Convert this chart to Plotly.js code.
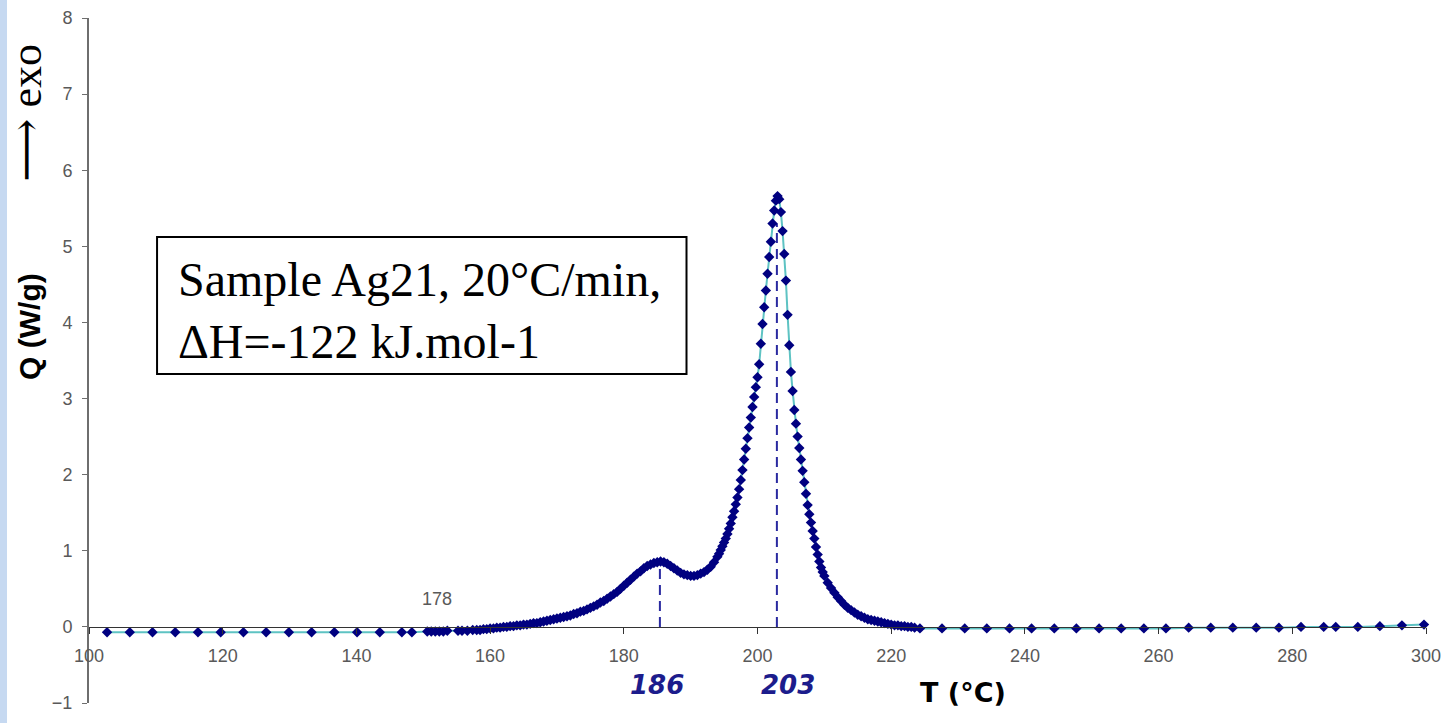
<!DOCTYPE html>
<html>
<head>
<meta charset="utf-8">
<script src="https://cdn.plot.ly/plotly-3.0.1.min.js"></script>
<style>
html,body{margin:0;padding:0;width:1443px;height:723px;overflow:hidden;
background:linear-gradient(to right,#c6d9f1 0px,#c6d9f1 7px,#ffffff 7px);}
#chart{width:1443px;height:723px;}
</style>
</head>
<body>
<div id="chart"></div>
<script>
// Temperature (°C) of each measured point
const tempC = [
102.7,106.1,109.5,112.9,116.3,119.7,123.1,126.5,129.9,133.3,136.7,140.1,143.5,146.8,148.3,
150.6,151.2,151.8,152.4,153.0,153.6,155.2,155.8,156.6,157.4,
158,158.5,159,159.5,160,160.5,161,161.5,162,162.5,163,163.5,164,164.5,165,165.5,166,166.5,167,167.5,
168,168.5,169,169.5,170,170.5,171,171.5,172,172.5,173,173.5,174,174.5,175,175.5,176,176.5,177,177.5,
178,178.5,179,179.5,180,180.5,181,181.5,182,182.5,183,183.5,184,184.5,185,185.5,186,186.5,187,187.5,
188,188.5,189,189.5,190,190.5,191,191.5,192,192.5,193,193.5,
194,194.25,194.5,194.75,195,195.25,195.5,195.75,196,196.25,196.5,196.75,197,197.25,197.5,197.75,
198,198.25,198.5,198.75,199,199.25,199.5,199.75,200,200.25,200.5,200.75,201,201.25,201.5,201.75,
202,202.25,202.5,202.75,203,203.25,203.5,203.75,204,204.25,204.5,204.75,205,205.25,205.5,205.75,
206,206.25,206.5,206.75,207,207.25,207.5,207.75,208,208.25,208.5,208.75,209,209.25,209.5,209.75,
210,210.5,211,211.5,212,212.5,213,213.5,214,214.5,215,215.5,216,216.5,217,217.5,
218,218.5,219,219.5,220,220.5,221,221.5,222,222.5,223,223.5,
224.3,227.6,231.0,234.3,237.7,241.0,244.4,247.7,251.1,254.4,257.8,261.1,264.5,267.8,271.1,274.6,
278.0,281.3,284.7,286.5,289.8,293.1,296.4,299.7
];
// Heat flow Q (W/g) of each point
const heatFlow = [
-0.07,-0.07,-0.07,-0.07,-0.07,-0.07,-0.07,-0.07,-0.07,-0.07,-0.07,-0.07,-0.07,-0.07,-0.07,
-0.06,-0.06,-0.06,-0.06,-0.06,-0.05,-0.05,-0.05,-0.05,-0.04,
-0.04,-0.04,-0.03,-0.03,-0.02,-0.02,-0.01,-0.01,0.00,0.00,0.01,0.01,0.02,0.02,0.03,0.03,0.04,0.05,0.05,0.06,
0.07,0.08,0.09,0.10,0.11,0.12,0.13,0.14,0.15,0.17,0.18,0.20,0.21,0.23,0.25,0.27,0.29,0.32,0.34,0.37,
0.40,0.43,0.46,0.50,0.54,0.58,0.62,0.66,0.70,0.73,0.77,0.80,0.82,0.84,0.85,0.86,0.85,0.83,0.80,0.77,
0.74,0.71,0.69,0.68,0.67,0.67,0.68,0.70,0.72,0.75,0.79,0.85,
0.92,0.96,1.01,1.06,1.11,1.16,1.22,1.29,1.36,1.44,1.52,1.61,1.70,1.81,1.93,2.06,
2.20,2.34,2.48,2.62,2.75,2.89,3.02,3.15,3.28,3.45,3.72,3.98,4.20,4.42,4.64,4.86,
5.06,5.30,5.47,5.60,5.66,5.62,5.45,5.20,4.90,4.55,4.10,3.70,3.35,3.10,2.85,2.67,
2.50,2.35,2.20,2.05,1.90,1.75,1.60,1.48,1.37,1.26,1.16,1.05,0.95,0.86,0.78,0.72,
0.67,0.58,0.51,0.45,0.39,0.34,0.29,0.25,0.22,0.19,0.16,0.14,0.12,0.10,0.09,0.08,
0.07,0.06,0.05,0.04,0.03,0.02,0.02,0.01,0.01,0.00,0.00,-0.01,
-0.02,-0.02,-0.02,-0.02,-0.02,-0.02,-0.02,-0.02,-0.02,-0.02,-0.02,-0.02,-0.01,-0.01,-0.01,-0.01,
-0.01,0.00,0.00,0.00,0.00,0.01,0.02,0.03
];
// Peak markers (dashed drop lines) and their labels
const peakT = [185.4, 202.9];
const peakQ = [0.85, 5.3];
const peakLabels = ['186', '203'];
// Axis ticks
const xTicks = [100,120,140,160,180,200,220,240,260,280,300];
const yTicks = [-1,0,1,2,3,4,5,6,7,8];
// Onset note
const onsetLabel = '178';
const onsetT = 152.1;
const onsetQ = 0.37;
// Texts
const infoLines = ['Sample Ag21, 20°C/min,', 'ΔH=-122 kJ.mol-1'];
const xTitle = 'T (°C)';
const yTitle = 'Q (W/g)';
const exoLabel = '⟶ exo';

const trace = {
  x: tempC, y: heatFlow, type: 'scatter', mode: 'lines+markers',
  line: {color: '#5ec3c3', width: 2},
  marker: {symbol: 'diamond', size: 8, color: '#000080', line: {width: 0}},
  cliponaxis: false, hoverinfo: 'x+y'
};

const sansFam = 'Liberation Sans, Arial, sans-serif';
const tickFont = {family: sansFam, size: 18, color: '#595959'};

const shapes = [];
for (let i = 0; i < peakT.length; i++) {
  shapes.push({type: 'line', xref: 'x', yref: 'y', x0: peakT[i], x1: peakT[i], y0: 0, y1: peakQ[i],
    line: {color: '#2a2aa0', width: 2, dash: '10px,6px'}, layer: 'below'});
}
// info box frame
shapes.push({type: 'rect', xref: 'paper', yref: 'paper', x0: 0.0509, x1: 0.4469, y0: 0.4803, y1: 0.6803,
  line: {color: '#000000', width: 2}, fillcolor: '#ffffff', layer: 'above'});

const annotations = [];
const labelShift = [-3, 11];
for (let i = 0; i < peakLabels.length; i++) {
  annotations.push({text: '<b><i>' + peakLabels[i] + '</i></b>', x: peakT[i], xref: 'x', y: 0.026, yref: 'paper',
    xshift: labelShift[i], showarrow: false, xanchor: 'center', yanchor: 'middle', borderpad: 0,
    font: {family: 'DejaVu Sans, Arial, sans-serif', size: 26, color: '#1c1c8c'}});
}
annotations.push({text: onsetLabel, x: onsetT, y: onsetQ, xref: 'x', yref: 'y', showarrow: false,
  font: tickFont, xanchor: 'center', yanchor: 'middle'});
annotations.push({text: '<b>' + xTitle + '</b>', x: 230.7, xref: 'x', y: 0.016, yref: 'paper', showarrow: false,
  xanchor: 'center', yanchor: 'middle', font: {family: 'DejaVu Sans, Arial, sans-serif', size: 27, color: '#000'}});
annotations.push({text: '<b>' + yTitle + '</b>', x: -0.0442, xref: 'paper', y: 0.5504, yref: 'paper', showarrow: false,
  textangle: -90, xanchor: 'center', yanchor: 'middle', font: {family: sansFam, size: 30, color: '#000'}});
annotations.push({text: exoLabel, x: -0.047, xref: 'paper', y: 0.862, yref: 'paper', showarrow: false,
  textangle: -90, xanchor: 'center', yanchor: 'middle', borderpad: 0,
  font: {family: 'Liberation Serif, DejaVu Serif, serif', size: 44, color: '#000'}});
annotations.push({text: infoLines.join('<br>'), x: 0.0651, xref: 'paper', y: 0.573, yref: 'paper', showarrow: false,
  xanchor: 'left', yanchor: 'middle', align: 'left',
  font: {family: 'Liberation Serif, Times New Roman, serif', size: 48, color: '#000'}});

const layout = {
  width: 1443, height: 723,
  margin: {l: 89, r: 17, t: 18, b: 20},
  paper_bgcolor: 'rgba(0,0,0,0)', plot_bgcolor: 'rgba(0,0,0,0)',
  showlegend: false,
  xaxis: {range: [100, 300], tickvals: xTicks, anchor: 'free', position: 1/9,
    showline: true, linecolor: '#333333', linewidth: 1.5, ticks: 'outside', ticklen: 6, tickcolor: '#333333',
    showgrid: false, zeroline: false, tickfont: tickFont, ticklabelstandoff: 6},
  yaxis: {range: [-1, 8], tickvals: yTicks, showline: true, linecolor: '#6e6e6e', linewidth: 2,
    ticks: 'outside', ticklen: 5, tickcolor: '#6e6e6e', showgrid: false, zeroline: false,
    tickfont: tickFont, ticklabelstandoff: 6},
  shapes: shapes,
  annotations: annotations
};

Plotly.newPlot('chart', [trace], layout, {displayModeBar: false, staticPlot: true});
</script>
</body>
</html>
